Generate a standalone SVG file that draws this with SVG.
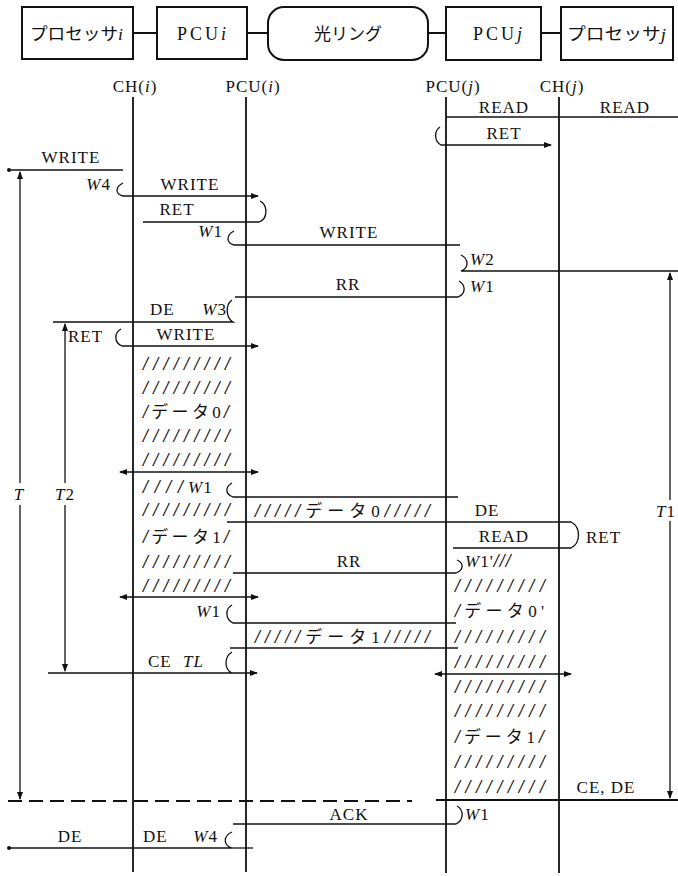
<svg xmlns="http://www.w3.org/2000/svg" width="678" height="876" viewBox="0 0 678 876">
<style>
.t{font-family:"Liberation Serif","Noto Sans CJK JP",serif;font-size:17px;letter-spacing:1px;fill:#111}
.b{font-family:"Liberation Serif","Noto Sans CJK JP",serif;font-size:18px;letter-spacing:3px;fill:#111}
.j{font-family:"Noto Sans CJK JP",sans-serif;font-size:17px;fill:#111}
.m{text-anchor:middle}
.i{font-style:italic}
.s{font-family:"Liberation Serif",serif;font-size:18px;font-style:italic;font-weight:bold;fill:#111}
.box{fill:#fff;stroke:#111;stroke-width:2}
.ln{fill:none;stroke:#111;stroke-width:1.3}
.ll{fill:none;stroke:#111;stroke-width:1.8}
.ds{fill:none;stroke:#111;stroke-width:1.8;stroke-dasharray:14 7}
</style>
<defs>
<marker id="ah" viewBox="0 0 8 6" refX="7" refY="3" markerWidth="8" markerHeight="6" markerUnits="userSpaceOnUse" orient="auto-start-reverse">
<path d="M0,0 L8,3 L0,6 z" fill="#111"/>
</marker>
<marker id="dot" viewBox="0 0 4 4" refX="2" refY="2" markerWidth="4" markerHeight="4" markerUnits="userSpaceOnUse">
<circle cx="2" cy="2" r="2" fill="#111"/>
</marker>
</defs>

<g id="proc-i"><rect class="box" x="22" y="7" width="111" height="52"/><text class="j m" x="77" y="40" textLength="94" lengthAdjust="spacingAndGlyphs">プロセッサ<tspan class="t i">i</tspan></text></g>
<g id="pcu-i"><rect class="box" x="157" y="7" width="90" height="52"/><text class="b m" x="203" y="40">PCU<tspan class="i">i</tspan></text></g>
<g id="ring"><rect class="box" x="268" y="7" width="160" height="53" rx="16"/><text class="j m" x="348" y="40" font-size="18">光リング</text></g>
<g id="pcu-j"><rect class="box" x="446" y="7" width="95" height="53"/><text class="b m" x="499" y="40">PCU<tspan class="i">j</tspan></text></g>
<g id="proc-j"><rect class="box" x="561" y="7" width="112" height="53"/><text class="j m" x="617" y="40" textLength="100" lengthAdjust="spacingAndGlyphs">プロセッサ<tspan class="t i">j</tspan></text></g>

<g id="box-links">
<path class="ll" d="M133,33 H157 M247,33 H268 M428,33 H446 M541,33 H561"/>
</g>

<g id="lifelines">
<text class="t m" x="135" y="92">CH(<tspan class="i">i</tspan>)</text>
<text class="t m" x="253" y="92">PCU(<tspan class="i">i</tspan>)</text>
<text class="t m" x="453" y="92">PCU(<tspan class="i">j</tspan>)</text>
<text class="t m" x="562" y="92">CH(<tspan class="i">j</tspan>)</text>
<path class="ll" d="M133,97 V872 M246,97 V872 M446,97 V873 M559,97 V873"/>
</g>

<g id="connectors">
<path class="ln" d="M446,117 H678"/>
<path class="ln" d="M440,127 C434,131 434,141 441,145 H551" marker-end="url(#ah)"/>
<path class="ln" d="M9,170 H123" marker-start="url(#dot)"/>
<path class="ln" d="M123,183 C115,187 115,194 123,196 H258" marker-end="url(#ah)"/>
<path class="ln" d="M143,222 H259 C268,219 268,205 260,201"/>
<path class="ln" d="M234,231 C226,235 226,243 234,245 H460"/>
<path class="ln" d="M461,255 C469,259 469,268 461,271 H678"/>
<path class="ln" d="M235,297 H458 C466,294 466,285 459,281"/>
<path class="ln" d="M53,322 H233 C226,318 225,305 232,300"/>
<path class="ln" d="M121,329 C114,333 114,343 122,346 H258" marker-end="url(#ah)"/>
<path class="ln" d="M120,472 H258" marker-start="url(#ah)" marker-end="url(#ah)"/>
<path class="ln" d="M232,483 C225,487 225,494 233,497 H458"/>
<path class="ln" d="M227,522 H571 C581,527 581,543 571,548 H453"/>
<path class="ln" d="M233,573 H456 C464,570 464,563 457,560"/>
<path class="ln" d="M120,597 H258" marker-start="url(#ah)" marker-end="url(#ah)"/>
<path class="ln" d="M232,605 C225,609 225,619 233,623 H456"/>
<path class="ln" d="M230,648 H458"/>
<path class="ln" d="M232,652 C224,657 224,669 232,673 H48 M232,673 H257" marker-end="url(#ah)"/>
<path class="ln" d="M435,674 H571" marker-start="url(#ah)" marker-end="url(#ah)"/>
<path class="ds" d="M8,801 H412"/>
<path class="ll" d="M436,800 H678"/>
<path class="ln" d="M233,824 H456 C464,820 464,810 457,806"/>
<path class="ln" d="M232,832 C223,836 223,845 232,848 H9" marker-end="url(#dot)"/>
<path class="ln" d="M232,848 H253"/>
<path class="ln" d="M20,483 V172" marker-end="url(#ah)"/>
<path class="ln" d="M20,505 V799" marker-end="url(#ah)"/>
<path class="ln" d="M65,483 V324" marker-end="url(#ah)"/>
<path class="ln" d="M65,505 V671" marker-end="url(#ah)"/>
<path class="ln" d="M670,500 V273" marker-end="url(#ah)"/>
<path class="ln" d="M670,521 V798" marker-end="url(#ah)"/>
</g>

<g id="labels">
<text class="t m" x="504" y="113">READ</text>
<text class="t m" x="625" y="113">READ</text>
<text class="t m" x="504" y="139">RET</text>
<text class="t m" x="71" y="163">WRITE</text>
<text class="t" x="111" y="190" text-anchor="end"><tspan class="i">W</tspan>4</text>
<text class="t m" x="190" y="190">WRITE</text>
<text class="t m" x="177" y="215">RET</text>
<text class="t" x="223" y="237" text-anchor="end"><tspan class="i">W</tspan>1</text>
<text class="t m" x="349" y="238">WRITE</text>
<text class="t" x="470" y="265"><tspan class="i">W</tspan>2</text>
<text class="t m" x="348" y="290">RR</text>
<text class="t" x="470" y="292"><tspan class="i">W</tspan>1</text>
<text class="t" x="150" y="315">DE</text>
<text class="t" x="227" y="315" text-anchor="end"><tspan class="i">W</tspan>3</text>
<text class="t" x="68" y="342">RET</text>
<text class="t m" x="186" y="340">WRITE</text>
<text class="t m" x="487" y="516">DE</text>
<text class="t m" x="504" y="542">READ</text>
<text class="t" x="586" y="543">RET</text>
<text class="t m" x="349" y="567">RR</text>
<text class="t" x="465" y="567"><tspan class="i">W</tspan>1'<tspan class="s">///</tspan></text>
<text class="t" x="221" y="617" text-anchor="end"><tspan class="i">W</tspan>1</text>
<text class="t" x="148" y="667">CE</text>
<text class="t i" x="183" y="667">TL</text>
<text class="t m" x="606" y="793">CE, DE</text>
<text class="t m" x="349" y="820">ACK</text>
<text class="t" x="465" y="820"><tspan class="i">W</tspan>1</text>
<text class="t m" x="70" y="842">DE</text>
<text class="t" x="143" y="842">DE</text>
<text class="t" x="218" y="842" text-anchor="end"><tspan class="i">W</tspan>4</text>
<text class="t i m" x="19" y="500">T</text>
<text class="t" x="55" y="500"><tspan class="i">T</tspan>2</text>
<text class="t" x="656" y="517"><tspan class="i">T</tspan>1</text>
</g>

<g id="data-ch-i">
<text class="s" x="143" y="370" textLength="87" lengthAdjust="spacing">/////////</text>
<text class="s" x="143" y="394" textLength="87" lengthAdjust="spacing">/////////</text>
<text class="t" x="143" y="418" textLength="87" lengthAdjust="spacing"><tspan class="s">/</tspan>データ0<tspan class="s">/</tspan></text>
<text class="s" x="143" y="442" textLength="87" lengthAdjust="spacing">/////////</text>
<text class="s" x="143" y="466" textLength="87" lengthAdjust="spacing">/////////</text>
<text class="s" x="143" y="493" textLength="40" lengthAdjust="spacing">////</text>
<text class="t" x="188" y="493"><tspan class="i">W</tspan>1</text>
<text class="s" x="143" y="516" textLength="87" lengthAdjust="spacing">/////////</text>
<text class="t" x="143" y="543" textLength="87" lengthAdjust="spacing"><tspan class="s">/</tspan>データ1<tspan class="s">/</tspan></text>
<text class="s" x="143" y="568" textLength="87" lengthAdjust="spacing">/////////</text>
<text class="s" x="143" y="592" textLength="87" lengthAdjust="spacing">/////////</text>
</g>

<g id="data-ring">
<text class="t" x="255" y="517" textLength="176" lengthAdjust="spacing"><tspan class="s">/////</tspan>データ0<tspan class="s">/////</tspan></text>
<text class="t" x="255" y="643" textLength="176" lengthAdjust="spacing"><tspan class="s">/////</tspan>データ1<tspan class="s">/////</tspan></text>
</g>

<g id="data-ch-j">
<text class="s" x="455" y="592" textLength="90" lengthAdjust="spacing">/////////</text>
<text class="t" x="455" y="617" textLength="90" lengthAdjust="spacing"><tspan class="s">/</tspan>データ0'</text>
<text class="s" x="455" y="643" textLength="90" lengthAdjust="spacing">/////////</text>
<text class="s" x="455" y="668" textLength="90" lengthAdjust="spacing">/////////</text>
<text class="s" x="455" y="693" textLength="90" lengthAdjust="spacing">/////////</text>
<text class="s" x="455" y="717" textLength="90" lengthAdjust="spacing">/////////</text>
<text class="t" x="455" y="743" textLength="90" lengthAdjust="spacing"><tspan class="s">/</tspan>データ1<tspan class="s">/</tspan></text>
<text class="s" x="455" y="768" textLength="90" lengthAdjust="spacing">/////////</text>
<text class="s" x="455" y="793" textLength="90" lengthAdjust="spacing">/////////</text>
</g>
</svg>
